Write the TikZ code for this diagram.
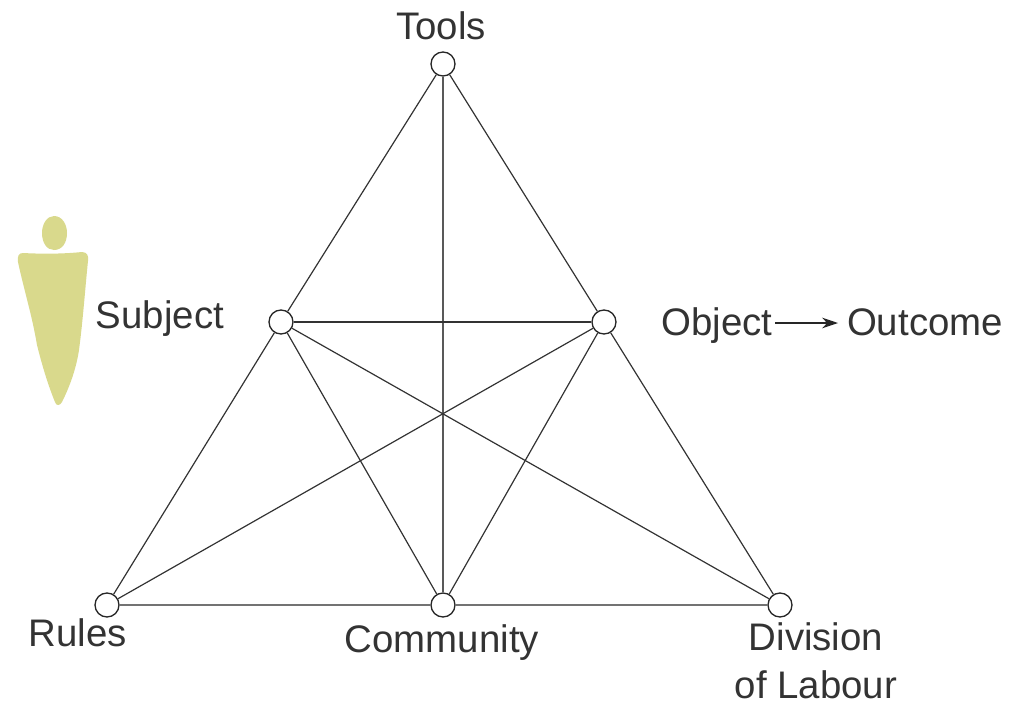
\documentclass[tikz,border=0pt]{standalone}
\usepackage{fontspec}
\setmainfont{Liberation Sans}
\usetikzlibrary{arrows.meta}
\definecolor{figure}{rgb}{0.85,0.85,0.55}
\tikzset{every picture/.style={line width=0.75pt}}
\tikzset{
  vertex/.style={circle,draw=black!85,fill=white,line width=1pt,minimum size=18pt,inner sep=0pt},
  edge/.style={draw=black!80,line width=0.9pt},
  label/.style={inner sep=0.75pt,anchor=base,text=black!80,font=\fontsize{28.8}{34}\selectfont,align=center}
}

\begin{document}
\begin{tikzpicture}[x=0.75pt,y=0.75pt,yscale=-1,xscale=1]
\useasboundingbox (0,0) rectangle (1012,707);

%Straight Lines
\node [vertex] (tools) at (443,64) {};
\node [vertex] (subject) at (281,322) {};
\node [vertex] (object) at (604,322) {};
\node [vertex] (rules) at (107,605) {};
\node [vertex] (community) at (443,605) {};
\node [vertex] (division) at (780,605) {};
\coordinate (arrowstart) at (775,323);
\coordinate (arrowend) at (838,323);

\draw [edge] (tools) -- (subject);
\draw [edge] (tools) -- (object);
\draw [edge,draw=black!65] (tools) -- (community);
\draw [edge] (subject) -- (object);
\draw [edge] (subject) -- (rules);
\draw [edge] (subject) -- (community);
\draw [edge] (subject) -- (division);
\draw [edge] (object) -- (rules);
\draw [edge] (object) -- (community);
\draw [edge] (object) -- (division);
\draw [edge,draw=black!55] (rules) -- (community);
\draw [edge,draw=black!55] (community) -- (division);
\draw [-{Stealth[length=12pt,width=8pt]},black!85,line width=0.9pt] (arrowstart) -- (arrowend);

%Shape: figure
\fill [figure] (54,216) .. controls (62,216) and (67,224) .. (67,233) .. controls (67,243) and (62,250) .. (54,250) .. controls (47,250) and (42,243) .. (42,233) .. controls (42,224) and (47,216) .. (54,216) -- cycle;
\fill [figure] (23,253) .. controls (42,254) and (62,254) .. (82,252) .. controls (87,252) and (89,256) .. (88,261) .. controls (85,290) and (83,320) .. (79,350) .. controls (76,370) and (69,388) .. (62,402) .. controls (60,406) and (56,406) .. (55,402) .. controls (48,385) and (42,365) .. (37,345) .. controls (32,315) and (24,290) .. (18,262) .. controls (17,256) and (19,253) .. (23,253) -- cycle;

% Text Node
\node [label] (toolslabel) at (441,39) {Tools};
\node [label] (subjectlabel) at (160,328) {Subject};
\node [label] (objectlabel) at (717,335) {Object};
\node [label] (outcomelabel) at (925,335) {Outcome};
\node [label] (ruleslabel) at (78,646) {Rules};
\node [label] (communitylabel) at (442,652) {Community};
\node [label] (divisionlabel) at (816,698) {Division\\[2pt]of Labour};
\end{tikzpicture}
\end{document}
